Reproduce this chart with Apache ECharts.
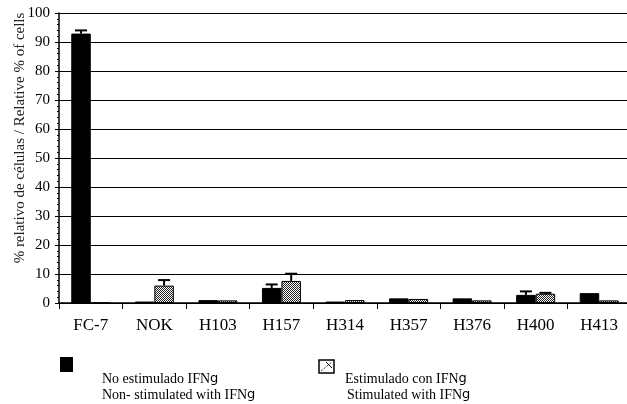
<!DOCTYPE html>
<html>
<head>
<meta charset="utf-8">
<script src="https://cdn.jsdelivr.net/npm/echarts@6/dist/echarts.min.js"></script>
<style>
  html, body { margin: 0; padding: 0; background: #fff; overflow: hidden; }
  #chart { width: 632px; height: 404px; }
</style>
</head>
<body>
<div id="chart"></div>
<script>
// Cell lines
const categories = ['FC-7', 'NOK', 'H103', 'H157', 'H314', 'H357', 'H376', 'H400', 'H413'];
// % of cells, without IFN-gamma stimulation
const nonStim = [92.9, 0.5, 1.0, 5.2, 0.5, 1.6, 1.6, 2.8, 3.4];
const nonStimErr = [1.1, 0, 0, 1.2, 0, 0, 0, 1.2, 0];
// % of cells, stimulated with IFN-gamma
const stim = [0, 6.0, 0.9, 7.6, 1.0, 1.4, 0.9, 3.2, 0.9];
const stimErr = [0, 1.9, 0, 2.5, 0, 0, 0, 0.3, 0];
// y-axis ticks
const yTicks = { min: 0, max: 100, interval: 10 };

const SERIF = '"Liberation Serif", "Times New Roman", serif';
const BAR_W = 19.5;

// Fine dotted fill for the stimulated bars
function makeDots() {
  const c = document.createElement('canvas');
  c.width = 2; c.height = 2;
  const g = c.getContext('2d');
  g.fillStyle = '#fff'; g.fillRect(0, 0, 2, 2);
  g.fillStyle = '#222';
  g.fillRect(0, 0, 1, 1);
  g.fillRect(1, 1, 1, 1);
  return c;
}
const dotFill = { image: makeDots(), repeat: 'repeat' };

// Upper error whiskers drawn on top of each bar
function errorSeries(values, errs, side) {
  return {
    type: 'custom',
    z: 5,
    silent: true,
    data: values.map((v, i) => [i, v, errs[i]]),
    renderItem: function (params, api) {
      const err = api.value(2);
      if (!err) return null;
      const base = api.coord([api.value(0), api.value(1)]);
      const top = api.coord([api.value(0), api.value(1) + err]);
      const x = base[0] + side * BAR_W / 2;
      const half = 6;
      return {
        type: 'group',
        children: [
          { type: 'line', shape: { x1: x, y1: base[1], x2: x, y2: top[1] },
            style: { stroke: '#000', lineWidth: 2 } },
          { type: 'line', shape: { x1: x - half, y1: top[1], x2: x + half, y2: top[1] },
            style: { stroke: '#000', lineWidth: 2 } }
        ]
      };
    }
  };
}

const gText = (rich) => ({ fontFamily: SERIF, fontSize: 14, fill: '#000', rich });
const richG = { g: { fontFamily: '"DejaVu Sans", sans-serif', fontSize: 13, fill: '#000' } };

const option = {
  animation: false,
  backgroundColor: '#fff',
  grid: { left: 59, right: 1, top: 13, bottom: 101, containLabel: false },
  xAxis: {
    type: 'category',
    data: categories,
    boundaryGap: true,
    axisLine: { lineStyle: { color: '#000', width: 1.5 } },
    axisTick: { show: true, length: 6, inside: false, alignWithLabel: false, lineStyle: { color: '#000', width: 1 } },
    axisLabel: { color: '#000', fontFamily: SERIF, fontSize: 17, margin: 14 },
    splitLine: { show: false }
  },
  yAxis: {
    type: 'value',
    min: yTicks.min, max: yTicks.max, interval: yTicks.interval,
    axisLine: { show: true, lineStyle: { color: '#000', width: 1.5 } },
    axisTick: { show: true, length: 4, lineStyle: { color: '#000', width: 1 } },
    minorTick: { show: true, splitNumber: 5, length: 2, lineStyle: { color: '#000', width: 1 } },
    axisLabel: { color: '#000', fontFamily: SERIF, fontSize: 15, margin: 9 },
    splitLine: { show: true, lineStyle: { color: '#000', width: 1 } }
  },
  series: [
    {
      name: 'No estimulado IFNg',
      type: 'bar',
      data: nonStim,
      barWidth: BAR_W,
      barGap: '0%',
      itemStyle: { color: '#000', borderColor: '#000', borderWidth: 1 }
    },
    {
      name: 'Estimulado con IFNg',
      type: 'bar',
      data: stim,
      barWidth: BAR_W,
      barGap: '0%',
      itemStyle: { color: dotFill, borderColor: '#000', borderWidth: 1 }
    },
    errorSeries(nonStim, nonStimErr, -1),
    errorSeries(stim, stimErr, 1)
  ],
  graphic: [
    // Axis title
    {
      type: 'text', x: 20, y: 138, rotation: Math.PI / 2,
      style: { text: '% relativo de células / Relative % of cells', fontFamily: SERIF, fontSize: 15,
               fill: '#222', align: 'center', verticalAlign: 'middle' }
    },
    // Legend: non-stimulated
    { type: 'rect', shape: { x: 60, y: 357, width: 13, height: 15 }, style: { fill: '#000' } },
    { type: 'text', x: 102, y: 379,
      style: Object.assign(gText(richG), { text: 'No estimulado IFN{g|g}', verticalAlign: 'middle' }) },
    { type: 'text', x: 102, y: 395,
      style: Object.assign(gText(richG), { text: 'Non- stimulated with IFN{g|g}', verticalAlign: 'middle' }) },
    // Legend: stimulated
    { type: 'rect', shape: { x: 319, y: 360, width: 15, height: 13 }, style: { fill: '#fff', stroke: '#000', lineWidth: 1.5 } },
    { type: 'line', shape: { x1: 321, y1: 371, x2: 332, y2: 362 }, style: { stroke: '#000', lineWidth: 1, lineDash: [1, 1] } },
    { type: 'line', shape: { x1: 326, y1: 362, x2: 332, y2: 368 }, style: { stroke: '#000', lineWidth: 1 } },
    { type: 'text', x: 345, y: 379,
      style: Object.assign(gText(richG), { text: 'Estimulado con IFN{g|g}', verticalAlign: 'middle' }) },
    { type: 'text', x: 347, y: 395,
      style: Object.assign(gText(richG), { text: 'Stimulated with IFN{g|g}', verticalAlign: 'middle' }) }
  ]
};

const chart = echarts.init(document.getElementById('chart'), null, { renderer: 'canvas' });
chart.setOption(option);
</script>
</body>
</html>
